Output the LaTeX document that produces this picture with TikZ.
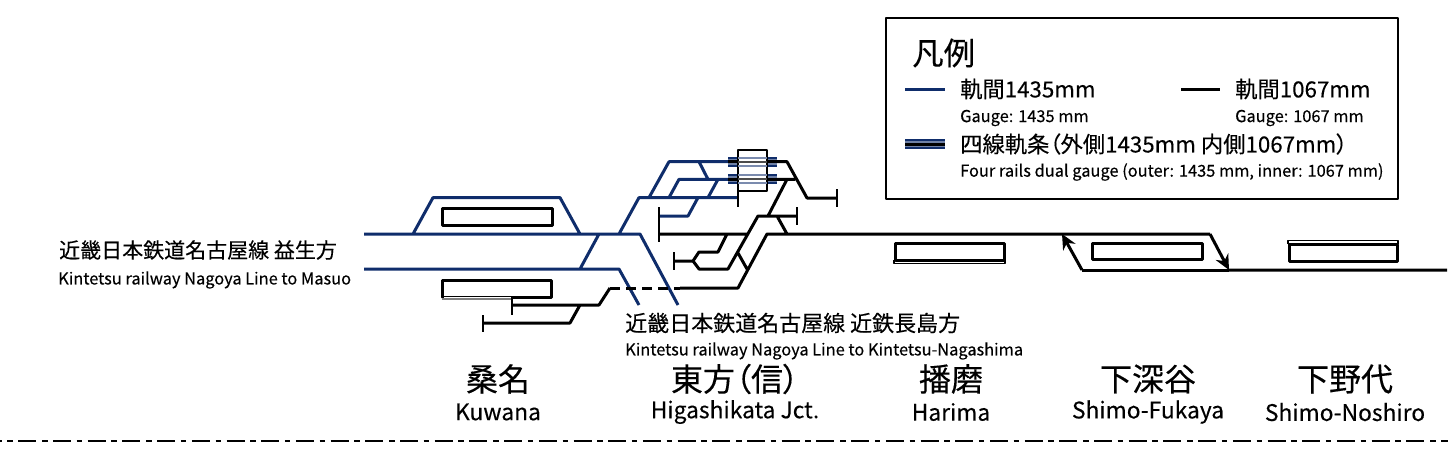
\documentclass[tikz,border=0pt]{standalone}
\usepackage{fontspec}
\usetikzlibrary{arrows.meta}
\setmainfont[FakeBold=0.25]{Noto Sans CJK JP}
\newfontfamily\jpalt[FakeBold=0.25,RawFeature=+palt]{Noto Sans CJK JP}
\definecolor{stdgauge}{HTML}{0F2D6B}
\tikzset{
	stdtrack/.style={draw=stdgauge,line width=3pt},
	nartrack/.style={draw=black,line width=3pt},
	platform/.style={draw=black,fill=white,line width=3pt},
	jp/.style={inner sep=0pt,font=\fontsize{21}{21}\selectfont},
	jpnag/.style={inner sep=0pt,font=\fontsize{22}{22}\selectfont},
	jpleg/.style={inner sep=0pt,font=\fontsize{22.3}{22}\selectfont},
	en/.style={inner sep=0pt,font=\fontsize{16.4}{16}\selectfont},
	stajp/.style={inner sep=0pt,font=\fontsize{32}{32}\selectfont},
	staen/.style={inner sep=0pt,font=\fontsize{22.8}{23}\selectfont}
}
\begin{document}
\begin{tikzpicture}[>=stealth,line join=round,line cap=butt,x=1pt,y=-1pt]
	\useasboundingbox (0,0) rectangle (1448,464);
	\path
	(364,234) coordinate (M_1)
	(640,234) coordinate (M_2)
	(678,305) coordinate (M_3)
	(364,269) coordinate (L_1)
	(619,269) coordinate (L_2)
	(639,305) coordinate (L_3)
	(738,197.6) coordinate (U_1)
	(728,161.7) coordinate (U_2)
	(728,179.3) coordinate (U_3)
	(777,161.7) coordinate (V_2)
	(777,179.3) coordinate (V_3)
	;
	% platforms
	\foreach \a/\b/\c/\d in {442/208/552/225,442/280/551/297,895/243/1004/260,1092/243/1202/259,1289/244/1397/261}
	{\draw[platform] (\a,\b) rectangle (\c,\d);}
	\draw[black,line width=1.5pt] (894,260)--(894,263.5)--(1005,263.5)--(1005,260) (1288,244)--(1288,240.5)--(1398,240.5)--(1398,244);
	\draw[white,line width=1pt] (444,297)--(511,297);
	\draw[gray,line width=1.4pt] (442,299)--(512,299);
	% standard gauge
	\draw[stdtrack]
	(M_1)--(M_2)--(M_3)
	(L_1)--(L_2)--(L_3)
	(413,234)--(433,197.6)--(560,197.6)--(580,234)
	(580,269)--(599,234)
	(619,234)--(639,197.6)--(U_1)
	(649,197.6)--(669,161.7)--(U_2)
	(669,197.6)--(679,179.3)--(U_3)
	(699,161.7)--(708,179.3)
	(708,197.6)--(718,179.3)
	(659,216)--(688,216)--(698,197.6)
	;
	% narrow gauge
	\draw[nartrack]
	(V_2)--(787,161.7)--(807,198)--(837,198)
	(V_3)--(795,179.3)
	(787,179.3)--(768,216)
	(797,216)--(758,216)--(728,269)--(699,269)--(693,261)--(674,261)
	(693,261)--(699,252)--(718,252)--(727,234)
	(777,216)--(787,234)
	(738,253)--(747,269)
	(659,234)--(748,234)
	(680,288)--(738,288)--(767,234)--(1210,234)
	(1229,270)--(1447,270)
	(512,305)--(599,305)--(610,288)
	(483,323)--(570,323)--(580,305)
	;
	\draw[nartrack,dash pattern=on 10pt off 6pt] (610,288)--(680,288);
	\draw[nartrack,-{Stealth[length=15pt,width=14pt]}] (1210,234)--(1229,270);
	\draw[nartrack] (1229,270)--(1082,270);
	\draw[nartrack,-{Stealth[length=15pt,width=14pt]}] (1082,270)--(1062,234);
	% buffers
	\foreach \x/\a/\b in {659/207/242,674/252/270,483/315/332,512/297/315,797/207/225,837/189/207,738/191/207}
	{\draw[black,line width=2pt] (\x,\a)--(\x,\b);}
	% dual gauge
	\foreach \a/\b in {U_2/V_2,U_3/V_3}{
		\draw[stdgauge,line width=10pt] (\a)--(\b);
		\draw[stdgauge!60,line width=6pt] (\a)--(\b);
		\draw[black,line width=3pt] (\a)--(\b);
	}
	\draw[black,fill=white,line width=1.8pt] (738,150) rectangle (767,191);
	\foreach \y in {161.7,179.3}{
		\draw[stdgauge!55,line width=2pt] (738,\y-4)--(767,\y-4) (738,\y+4)--(767,\y+4);
		\draw[black!70,line width=2pt] (738,\y)--(767,\y);
	}
	% legend
	\draw[black,line width=2.4pt] (886,18) rectangle (1398,199);
	\node[inner sep=0pt,anchor=west,font=\fontsize{31.5}{32}\selectfont] (legendtitle) at (912,53) {凡例};
	\draw[stdtrack] (905,89)--(945,89);
	\draw[nartrack] (1181,89)--(1220,89);
	\draw[stdgauge,line width=10.5pt] (905,144)--(945,144);
	\draw[stdgauge!60,line width=6pt] (905,144)--(945,144);
	\draw[black,line width=3pt] (905,144)--(945,144);
	\node[jpleg,anchor=west] (legendstd) at (960,89) {軌間1435mm};
	\node[jpleg,anchor=west] (legendnar) at (1235,89) {軌間1067mm};
	\node[en,anchor=west] (legendstden) at (960,118) {Gauge: 1435 mm};
	\node[en,anchor=west] (legendnaren) at (1235,118) {Gauge: 1067 mm};
	\node[jpleg,anchor=west] (legenddual) at (960,144) {\jpalt 四線軌条（外側1435mm 内側1067mm）};
	\node[en,anchor=west] (legendualen) at (960,172) {Four rails dual gauge (outer: 1435 mm, inner: 1067 mm)};
	% line labels
	\node[jp,anchor=west] (masuo) at (59,250) {近畿日本鉄道名古屋線 益生方};
	\node[en,anchor=west] (masuoen) at (58,280) {Kintetsu railway Nagoya Line to Masuo};
	\node[jpnag,anchor=west] (nagashima) at (625,323) {近畿日本鉄道名古屋線 近鉄長島方};
	\node[en,anchor=west] (nagashimaen) at (625,351) {Kintetsu railway Nagoya Line to Kintetsu-Nagashima};
	% stations
	\foreach \x/\n/\j/\e in {498/kuwana/桑名/Kuwana,735/higashikata/\jpalt 東方（信）/Higashikata Jct.,951/harima/播磨/Harima,1148/fukaya/下深谷/Shimo-Fukaya,1345/noshiro/下野代/Shimo-Noshiro}
	{
		\node[stajp] (\n) at (\x,379) {\j};
		\node[staen] (\n en) at (\x,412) {\e};
	}
	\draw[black,line width=2.2pt,dash pattern=on 18pt off 5.7pt on 5.5pt off 5.5pt,dash phase=16.4pt] (0,441)--(1448,441);
\end{tikzpicture}
\end{document}
